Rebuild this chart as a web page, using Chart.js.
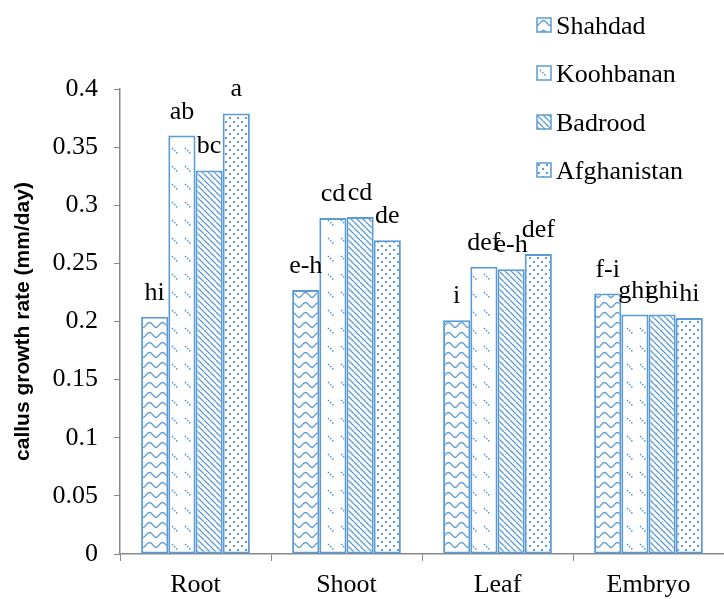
<!DOCTYPE html>
<html>
<head>
<meta charset="utf-8">
<script src="https://cdn.jsdelivr.net/npm/chart.js@4"></script>
<style>
  body { margin: 0; background: #fff; }
</style>
</head>
<body>
<canvas id="chart" width="724" height="599"></canvas>
<script>
// data
const categories = ['Root', 'Shoot', 'Leaf', 'Embryo'];
const seriesNames = ['Shahdad', 'Koohbanan', 'Badrood', 'Afghanistan'];
const shahdad = [0.204, 0.227, 0.201, 0.224];
const koohbanan = [0.360, 0.289, 0.247, 0.206];
const badrood = [0.330, 0.290, 0.245, 0.206];
const afghanistan = [0.379, 0.270, 0.258, 0.203];
const shahdadLetters = ['hi', 'e-h', 'i', 'f-i'];
const koohbananLetters = ['ab', 'cd', 'def', 'ghi'];
const badroodLetters = ['bc', 'cd', 'e-h', 'ghi'];
const afghanistanLetters = ['a', 'de', 'def', 'hi'];
const yTicks = [0, 0.05, 0.1, 0.15, 0.2, 0.25, 0.3, 0.35, 0.4];

const blue = '#5b9bd5';
const axisColor = '#898989';
const serif = '"Liberation Serif", "Times New Roman", serif';

// hatch patterns
function makePattern(kind) {
    const c = document.createElement('canvas');
    const g = c.getContext('2d');
    if (kind === 'wave') {
        c.width = 13; c.height = 10;
        g.fillStyle = '#fff'; g.fillRect(0, 0, 13, 10);
        g.strokeStyle = blue; g.lineWidth = 1.3;
        g.beginPath();
        g.moveTo(0, 7.5);
        g.bezierCurveTo(2.5, 7.5, 3.5, 2.5, 6.5, 2.5);
        g.bezierCurveTo(9.5, 2.5, 10.5, 7.5, 13, 7.5);
        g.stroke();
    } else if (kind === 'dash') {
        c.width = 13; c.height = 18;
        g.fillStyle = '#fff'; g.fillRect(0, 0, 13, 18);
        g.strokeStyle = blue; g.lineWidth = 1.5;
        g.setLineDash([1.6, 1.4]);
        g.beginPath();
        g.moveTo(3, 4); g.lineTo(9, 10);
        g.stroke();
    } else if (kind === 'diag') {
        c.width = 6; c.height = 6;
        g.fillStyle = '#fff'; g.fillRect(0, 0, 6, 6);
        g.strokeStyle = blue; g.lineWidth = 1.3;
        g.beginPath();
        [-6, 0, 6].forEach(o => { g.moveTo(o, 0); g.lineTo(o + 6, 6); });
        g.stroke();
    } else {
        c.width = 8; c.height = 8;
        g.fillStyle = '#fff'; g.fillRect(0, 0, 8, 8);
        g.fillStyle = blue;
        g.fillRect(1, 1, 2, 2);
        g.fillRect(5, 5, 2, 2);
    }
    return g.createPattern(c, 'repeat');
}

const patterns = [makePattern('wave'), makePattern('dash'), makePattern('diag'), makePattern('dots')];
const values = [shahdad, koohbanan, badrood, afghanistan];
const letters = [shahdadLetters, koohbananLetters, badroodLetters, afghanistanLetters];

// letters above bars
const barLabels = {
    id: 'barLabels',
    afterDatasetsDraw(chart) {
        const ctx = chart.ctx;
        ctx.save();
        ctx.font = '26px ' + serif;
        ctx.fillStyle = '#000';
        ctx.textAlign = 'center';
        ctx.textBaseline = 'alphabetic';
        chart.data.datasets.forEach((ds, i) => {
            chart.getDatasetMeta(i).data.forEach((bar, j) => {
                ctx.fillText(letters[i][j], bar.x, bar.y - 17);
            });
        });
        ctx.restore();
    }
};

// legend in the upper right
const sideLegend = {
    id: 'sideLegend',
    afterDraw(chart) {
        const ctx = chart.ctx;
        ctx.save();
        ctx.font = '26px ' + serif;
        ctx.textBaseline = 'alphabetic';
        ctx.textAlign = 'left';
        seriesNames.forEach((name, i) => {
            const cy = 25 + i * 48.3;
            ctx.save();
            ctx.translate(537, Math.round(cy - 7));
            ctx.fillStyle = patterns[i];
            ctx.fillRect(0, 0, 14, 14);
            ctx.strokeStyle = blue;
            ctx.lineWidth = 1.5;
            ctx.strokeRect(0, 0, 14, 14);
            ctx.restore();
            ctx.fillStyle = '#000';
            ctx.fillText(name, 556, cy + 9);
        });
        ctx.restore();
    }
};

new Chart(document.getElementById('chart').getContext('2d'), {
    type: 'bar',
    data: {
        labels: categories,
        datasets: seriesNames.map((name, i) => ({
            label: name,
            data: values[i],
            backgroundColor: patterns[i],
            borderColor: blue,
            borderWidth: 2,
            borderSkipped: false,
            barPercentage: 1,
            categoryPercentage: 0.72,
        }))
    },
    options: {
        responsive: false,
        animation: false,
        layout: { padding: { top: 89, right: 0, left: 0, bottom: 0 } },
        plugins: {
            legend: { display: false },
            tooltip: { enabled: false },
        },
        scales: {
            x: {
                offset: true,
                grid: {
                    offset: true,
                    drawOnChartArea: false,
                    color: axisColor,
                    tickLength: 7,
                },
                border: { color: axisColor, width: 1.5 },
                ticks: { color: '#000', font: { family: serif, size: 26 }, padding: 9 },
                afterFit: (s) => { s.height = 45; },
            },
            y: {
                min: 0,
                max: 0.4,
                afterBuildTicks: (s) => { s.ticks = yTicks.map(v => ({ value: v })); },
                grid: {
                    drawOnChartArea: false,
                    color: axisColor,
                    tickLength: 6,
                },
                border: { color: axisColor, width: 1.5 },
                ticks: {
                    color: '#000',
                    font: { family: serif, size: 26 },
                    padding: 16,
                    callback: (v) => String(Math.round(v * 100) / 100),
                },
                title: {
                    display: true,
                    text: 'callus growth rate (mm/day)',
                    color: '#000',
                    font: { family: '"Liberation Sans", Arial, sans-serif', size: 21, weight: 'bold' },
                    padding: { top: 11, bottom: 0 },
                },
                afterFit: (s) => { s.width = 120; },
            }
        }
    },
    plugins: [barLabels, sideLegend]
});
</script>
</body>
</html>
